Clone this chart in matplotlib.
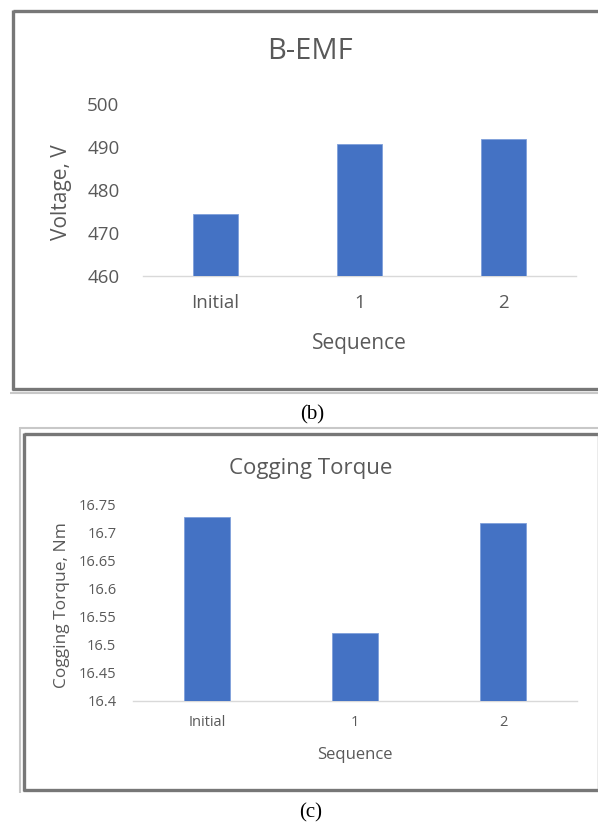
import matplotlib
matplotlib.use("Agg")
import matplotlib.pyplot as plt
from matplotlib.lines import Line2D

# ---- data ----
categories = ["Initial", "1", "2"]
bemf_values = [474.5, 490.7, 491.9]
bemf_ticks = [460, 470, 480, 490, 500]
cogging_values = [16.728, 16.522, 16.717]
cogging_ticks = [16.4, 16.45, 16.5, 16.55, 16.6, 16.65, 16.7, 16.75]
cogging_tick_labels = ["16.4", "16.45", "16.5", "16.55", "16.6", "16.65", "16.7", "16.75"]

W, H = 598, 825
BLUE = "#4472C4"
TXT = "#595959"
plt.rcParams['font.family'] = ['Open Sans', 'DejaVu Sans']

fig = plt.figure(figsize=(W / 100, H / 100), dpi=100)
fig.patch.set_facecolor("white")


def px_axes(x0, x1, ytop, ybot):
    return fig.add_axes([x0 / W, 1 - ybot / H, (x1 - x0) / W, (ybot - ytop) / H])


def px_line(xs, ys, color, lw):
    fig.add_artist(Line2D([x / W for x in xs], [1 - y / H for y in ys],
                          transform=fig.transFigure, color=color, lw=lw,
                          solid_capstyle="butt"))


def style(ax):
    for s in ("top", "right", "left"):
        ax.spines[s].set_visible(False)
    ax.spines["bottom"].set_color("#D9D9D9")
    ax.spines["bottom"].set_linewidth(1.0)
    ax.set_xlim(-0.5, 2.5)


# ---- top chart: B-EMF ----
ax1 = px_axes(143, 576, 104, 276)
style(ax1)
ax1.bar(range(len(categories)), bemf_values, width=0.31, color=BLUE,
        edgecolor="#7FA0DA", linewidth=0.6, zorder=3)
ax1.set_ylim(460, 500)
ax1.set_yticks(bemf_ticks)
ax1.set_xticks(range(len(categories)))
ax1.set_xticklabels(categories)
ax1.tick_params(axis="y", length=0, pad=17, labelsize=13.5, labelcolor=TXT)
ax1.tick_params(axis="x", length=0, pad=13, labelsize=13.5, labelcolor=TXT)
ax1.set_title("B-EMF", fontsize=21, color=TXT, x=(310 - 143) / 433,
              y=(276 - 52) / 172, va="center", pad=0)
ax1.set_ylabel("Voltage, V", fontsize=15, color=TXT, va="center", ha="center")
ax1.yaxis.set_label_coords((61 - 143) / 433, (276 - 192) / 172)
ax1.set_xlabel("Sequence", fontsize=15, color=TXT, va="center", ha="center")
ax1.xaxis.set_label_coords((359 - 143) / 433, (276 - 343) / 172)

# ---- bottom chart: Cogging Torque ----
ax2 = px_axes(133, 577, 505, 701)
style(ax2)
ax2.bar(range(len(categories)), cogging_values, width=0.31, color=BLUE,
        edgecolor="#7FA0DA", linewidth=0.6, zorder=3)
ax2.set_ylim(16.4, 16.75)
ax2.set_yticks(cogging_ticks)
ax2.set_yticklabels(cogging_tick_labels)
ax2.set_xticks(range(len(categories)))
ax2.set_xticklabels(categories)
ax2.tick_params(axis="y", length=0, pad=12, labelsize=10.5, labelcolor=TXT)
ax2.tick_params(axis="x", length=0, pad=10, labelsize=10.5, labelcolor=TXT)
ax2.set_title("Cogging Torque", fontsize=16, color=TXT, x=(311 - 133) / 444,
              y=(701 - 468) / 196, va="center", pad=0)
ax2.set_ylabel("Cogging Torque, Nm", fontsize=12.5, color=TXT, va="center", ha="center")
ax2.yaxis.set_label_coords((61.5 - 133) / 444, (701 - 605) / 196)
ax2.set_xlabel("Sequence", fontsize=12, color=TXT, va="center", ha="center")
ax2.xaxis.set_label_coords((355 - 133) / 444, (701 - 755) / 196)

# ---- frames ----
DARK = "#777777"
LIGHT = "#C8C8C8"
# top frame
px_line([13, 600], [11, 11], DARK, 2.4)
px_line([13, 13], [10, 390], DARK, 2.4)
px_line([12, 600], [389, 389], DARK, 2.4)
px_line([10, 600], [393, 393], LIGHT, 1.5)
# bottom frame
px_line([20, 600], [428, 428], LIGHT, 1.5)
px_line([20, 20], [427, 793], LIGHT, 1.5)
px_line([24, 598], [434, 434], DARK, 2.4)
px_line([24, 24], [433, 791], DARK, 2.4)
px_line([23, 598], [790, 790], DARK, 2.4)
px_line([597.5, 597.5], [433, 791], "#999999", 1.0)

# ---- captions ----
fig.text(312 / W, 1 - 415 / H, "(b)", family=["Liberation Serif", "DejaVu Serif"],
         fontsize=15, ha="center", va="center", color="black")
fig.text(311 / W, 1 - 813 / H, "(c)", family=["Liberation Serif", "DejaVu Serif"],
         fontsize=15, ha="center", va="center", color="black")

fig.savefig("out.png", dpi=100, facecolor="white")
